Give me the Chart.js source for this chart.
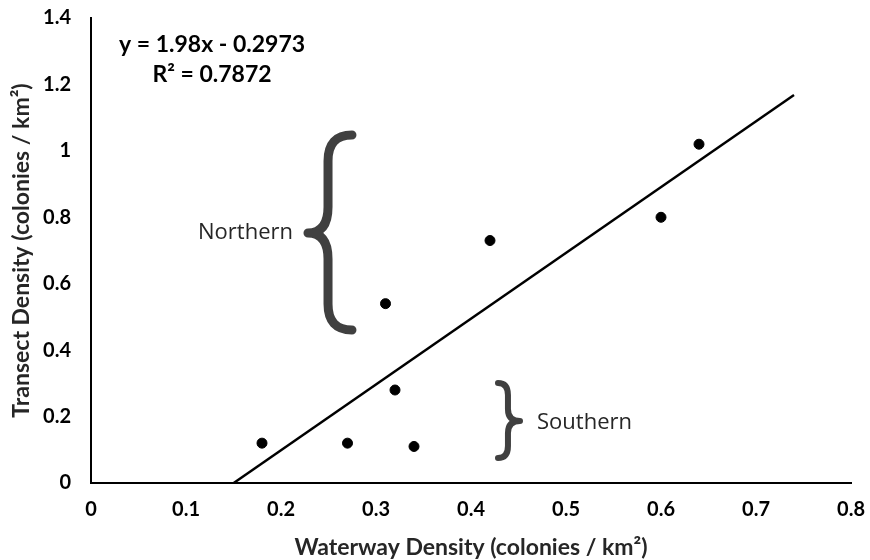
<!DOCTYPE html>
<html>
<head>
<meta charset="utf-8">
<script src="https://cdn.jsdelivr.net/npm/chart.js@4.4.1/dist/chart.umd.min.js"></script>
<style>
    html, body { margin: 0; padding: 0; background: #fff; }
    #wrap { width: 870px; height: 560px; }
</style>
</head>
<body>
<div id="wrap"><canvas id="densityChart" width="870" height="560"></canvas></div>
<script>
// Data
const waterwayDensity = [0.18, 0.27, 0.34, 0.32, 0.31, 0.42, 0.60, 0.64];
const transectDensity = [0.12, 0.12, 0.11, 0.28, 0.54, 0.73, 0.80, 1.02];
const xTicks = [0, 0.1, 0.2, 0.3, 0.4, 0.5, 0.6, 0.7, 0.8];
const yTicks = [0, 0.2, 0.4, 0.6, 0.8, 1, 1.2, 1.4];

// Linear trendline as printed on the chart
const trendSlope = 1.98;
const trendIntercept = -0.2973;
const trendXRange = [0.1502, 0.74];

const equationLines = ['y = 1.98x - 0.2973', 'R\u00b2 = 0.7872'];
const groupLabels = ['Northern', 'Southern'];

const AXIS_FONT = 'Lato, "Open Sans", sans-serif';

const trendPoints = trendXRange.map(x => ({ x: x, y: trendSlope * x + trendIntercept }));
const scatterPoints = waterwayDensity.map((x, i) => ({ x: x, y: transectDensity[i] }));

function fmt(v) {
    return String(Number(v.toFixed(2)));
}

// Curly brace from the end points through the stem to the tip
function drawBrace(ctx, xEnd, xStem, xTip, yTop, yMid, yBottom, curl, width) {
    ctx.save();
    ctx.strokeStyle = '#404040';
    ctx.lineWidth = width;
    ctx.lineCap = 'round';
    ctx.lineJoin = 'round';
    ctx.beginPath();
    ctx.moveTo(xEnd, yTop);
    ctx.quadraticCurveTo(xStem, yTop, xStem, yTop + curl);
    ctx.lineTo(xStem, yMid - curl);
    ctx.quadraticCurveTo(xStem, yMid, xTip, yMid);
    ctx.quadraticCurveTo(xStem, yMid, xStem, yMid + curl);
    ctx.lineTo(xStem, yBottom - curl);
    ctx.quadraticCurveTo(xStem, yBottom, xEnd, yBottom);
    ctx.stroke();
    ctx.restore();
}

const annotations = {
    id: 'annotations',
    afterDatasetsDraw(chart) {
        const { ctx, scales: { x, y } } = chart;
        ctx.save();
        ctx.fillStyle = '#000';
        ctx.textBaseline = 'middle';
        ctx.textAlign = 'center';
        ctx.font = 'bold 23px ' + AXIS_FONT;
        ctx.fillText(equationLines[0], x.getPixelForValue(0.1274), y.getPixelForValue(1.3193));
        ctx.fillText(equationLines[1], x.getPixelForValue(0.1274), y.getPixelForValue(1.2290));

        ctx.font = '22px "Open Sans", sans-serif';
        ctx.fillStyle = '#262626';
        ctx.textAlign = 'right';
        ctx.fillText(groupLabels[0], x.getPixelForValue(0.2126), y.getPixelForValue(0.753));
        ctx.textAlign = 'left';
        ctx.fillText(groupLabels[1], x.getPixelForValue(0.4695), y.getPixelForValue(0.181));
        ctx.restore();

        drawBrace(ctx,
            x.getPixelForValue(0.2747), x.getPixelForValue(0.2495), x.getPixelForValue(0.2284),
            y.getPixelForValue(1.0478), y.getPixelForValue(0.7527), y.getPixelForValue(0.4607),
            26, 9);
        drawBrace(ctx,
            x.getPixelForValue(0.4284), x.getPixelForValue(0.4389), x.getPixelForValue(0.4516),
            y.getPixelForValue(0.3011), y.getPixelForValue(0.1867), y.getPixelForValue(0.0753),
            12, 6);
    }
};

document.addEventListener('DOMContentLoaded', () => {
    const ctx = document.getElementById('densityChart').getContext('2d');
    new Chart(ctx, {
        type: 'scatter',
        data: {
            datasets: [{
                type: 'line',
                label: 'Linear trend',
                data: trendPoints,
                borderColor: '#000',
                borderWidth: 2.5,
                pointRadius: 0,
                fill: false,
                order: 2
            }, {
                label: 'Sites',
                data: scatterPoints,
                backgroundColor: '#000',
                borderColor: '#000',
                pointRadius: 5,
                pointHoverRadius: 5,
                order: 1
            }]
        },
        options: {
            responsive: false,
            animation: false,
            devicePixelRatio: 1,
            layout: { padding: { top: 18, right: 19, left: 0, bottom: 0 } },
            plugins: {
                legend: { display: false },
                tooltip: { enabled: false }
            },
            scales: {
                x: {
                    type: 'linear',
                    min: 0,
                    max: 0.8,
                    afterBuildTicks: s => { s.ticks = xTicks.map(v => ({ value: v })); },
                    afterFit: s => {
                        s.height = 77;
                        s.paddingLeft = 0;
                        s.paddingRight = 0;
                    },
                    grid: { display: false, drawTicks: false },
                    border: { display: true, color: '#000', width: 2 },
                    ticks: {
                        padding: 15,
                        color: '#000',
                        maxRotation: 0,
                        font: { family: AXIS_FONT, size: 20, weight: 'bold' },
                        callback: v => fmt(v)
                    },
                    title: {
                        display: true,
                        text: 'Waterway Density (colonies / km\u00b2)',
                        color: '#262626',
                        padding: { top: 0, bottom: -1 },
                        font: { family: AXIS_FONT, size: 23, weight: 'bold' }
                    }
                },
                y: {
                    type: 'linear',
                    min: 0,
                    max: 1.4,
                    afterBuildTicks: s => { s.ticks = yTicks.map(v => ({ value: v })); },
                    afterFit: s => {
                        s.width = 91;
                        s.paddingTop = 0;
                        s.paddingBottom = 0;
                    },
                    grid: { display: false, drawTicks: false },
                    border: { display: true, color: '#000', width: 2 },
                    ticks: {
                        padding: 20,
                        color: '#000',
                        font: { family: AXIS_FONT, size: 20, weight: 'bold' },
                        callback: v => fmt(v)
                    },
                    title: {
                        display: true,
                        text: 'Transect Density (colonies / km\u00b2)',
                        color: '#262626',
                        padding: { top: 8, bottom: 0 },
                        font: { family: AXIS_FONT, size: 23, weight: 'bold' }
                    }
                }
            }
        },
        plugins: [annotations]
    });
});
</script>
</body>
</html>
